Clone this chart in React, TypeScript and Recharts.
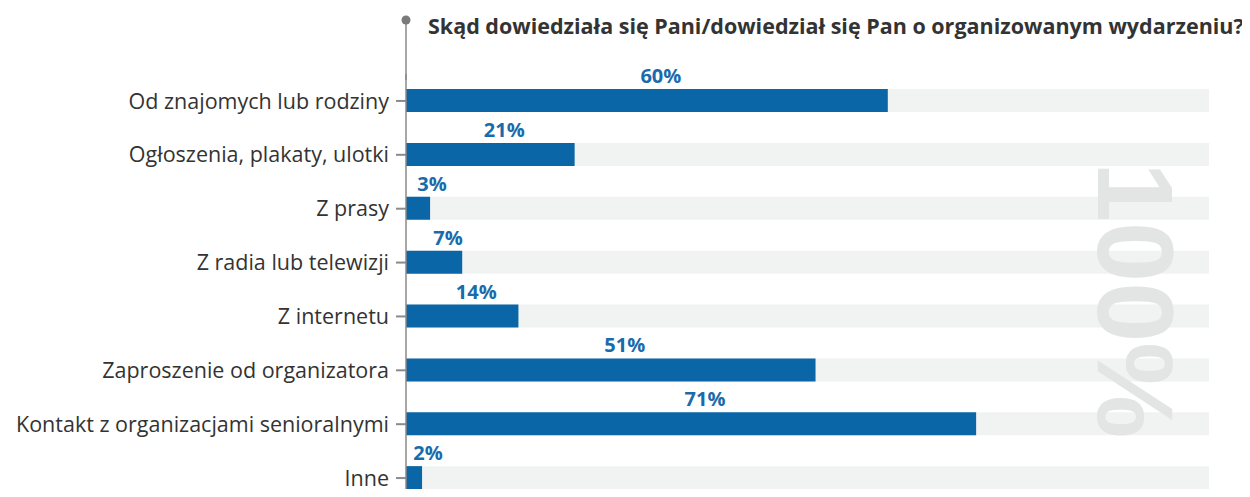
import { BarChart, Bar, XAxis, YAxis, LabelList } from 'recharts';

const categories = [
    'Od znajomych lub rodziny',
    'Ogłoszenia, plakaty, ulotki',
    'Z prasy',
    'Z radia lub telewizji',
    'Z internetu',
    'Zaproszenie od organizatora',
    'Kontakt z organizacjami senioralnymi',
    'Inne'
];
const values = [60, 21, 3, 7, 14, 51, 71, 2];
const title = 'Skąd dowiedziała się Pani/dowiedział się Pan o organizowanym wydarzeniu?';

const data = categories.map((name, i) => ({ name, value: values[i] }));

const FONT = "'Open Sans', 'Noto Sans', sans-serif";
const BLUE = '#0b66a8';

function ValueLabel(props: any) {
    const { x, y, width, value } = props;
    return (
        <text
            x={x + width / 2 + 14}
            y={y - 6}
            textAnchor="middle"
            fill="#1a6bab"
            fontFamily={FONT}
            fontWeight={700}
            fontSize={20}
        >
            {value}%
        </text>
    );
}

export default function App() {
    return (
        <div style={{ position: 'relative', width: 1250, height: 497, margin: -8, overflow: 'hidden', background: '#fff' }}>
            <BarChart
                width={1250}
                height={510}
                data={data}
                layout="vertical"
                margin={{ top: 74, right: 41, left: 0, bottom: 5 }}
                barSize={23}
            >
                <XAxis type="number" domain={[0, 100]} hide />
                <YAxis
                    type="category"
                    dataKey="name"
                    width={406}
                    axisLine={{ stroke: '#8a8a8a', strokeWidth: 1.5 }}
                    tickLine={{ stroke: '#8a8a8a', strokeWidth: 2 }}
                    tickSize={10}
                    tickMargin={7}
                    tick={{ fill: '#333', fontSize: 21.5, fontFamily: FONT }}
                />
                <Bar
                    dataKey="value"
                    fill={BLUE}
                    background={{ fill: '#f1f2f2' }}
                    isAnimationActive={false}
                >
                    <LabelList dataKey="value" content={<ValueLabel />} />
                </Bar>
            </BarChart>
            <svg width={1250} height={497} style={{ position: 'absolute', left: 0, top: 0, pointerEvents: 'none' }}>
                <line x1={406} y1={20} x2={406} y2={80} stroke="#8a8a8a" strokeWidth={1.5} />
                <circle cx={406} cy={20} r={4.5} fill="#7a7a7a" />
                <text x={428} y={34} fill="#333" fontFamily={FONT} fontWeight={700} fontSize={21.5}>
                    {title}
                </text>
                <text
                    transform="translate(1098,162) rotate(90)"
                    fill="#e3e4e4"
                    fontFamily="'Liberation Sans', Arial, sans-serif"
                    fontWeight={700}
                    fontSize={108}
                    x={0}
                    y={0}
                >
                    100%
                </text>
            </svg>
        </div>
    );
}
